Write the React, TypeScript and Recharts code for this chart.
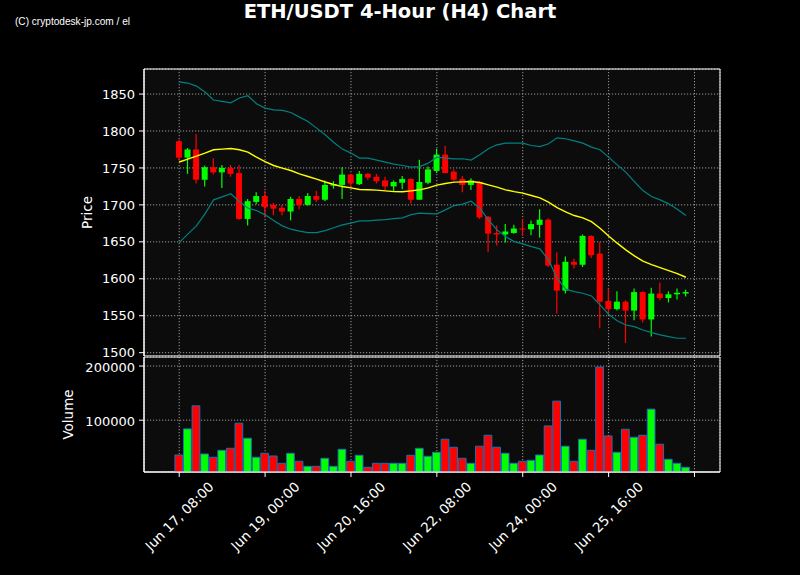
import React from 'react';
import { ComposedChart, Bar, Line, XAxis, YAxis, CartesianGrid, Cell, ReferenceArea } from 'recharts';

const opens = [1786, 1764, 1775, 1734, 1751, 1744, 1750, 1743, 1681, 1704, 1712, 1700, 1696, 1691, 1708, 1700, 1712, 1707, 1726, 1727, 1741, 1728, 1742, 1738, 1733, 1725, 1730, 1735, 1707, 1730, 1746, 1768, 1745, 1735, 1727, 1731, 1684, 1662, 1660, 1662, 1668, 1667, 1673, 1680, 1619, 1584, 1623, 1619, 1658, 1634, 1570, 1559, 1569, 1557, 1582, 1545, 1580, 1574, 1579, 1580];
const highs = [1788, 1777, 1796, 1753, 1763, 1754, 1754, 1754, 1708, 1717, 1719, 1703, 1700, 1711, 1712, 1716, 1719, 1733, 1732, 1751, 1742, 1746, 1743, 1742, 1738, 1733, 1739, 1736, 1761, 1752, 1776, 1780, 1748, 1739, 1736, 1732, 1685, 1672, 1674, 1673, 1681, 1679, 1694, 1682, 1636, 1630, 1627, 1660, 1659, 1650, 1587, 1583, 1571, 1587, 1583, 1588, 1595, 1583, 1587, 1585];
const lows = [1760, 1742, 1729, 1725, 1741, 1723, 1738, 1680, 1672, 1701, 1683, 1686, 1686, 1679, 1694, 1699, 1704, 1705, 1722, 1708, 1723, 1727, 1734, 1729, 1720, 1718, 1721, 1702, 1707, 1728, 1743, 1743, 1733, 1717, 1720, 1681, 1636, 1645, 1649, 1661, 1658, 1659, 1656, 1616, 1553, 1580, 1614, 1616, 1628, 1533, 1553, 1557, 1513, 1544, 1541, 1522, 1571, 1568, 1572, 1576];
const closes = [1764, 1775, 1734, 1751, 1744, 1750, 1742, 1681, 1705, 1712, 1697, 1695, 1691, 1708, 1700, 1712, 1707, 1727, 1728, 1741, 1729, 1742, 1737, 1732, 1725, 1731, 1735, 1707, 1731, 1748, 1768, 1743, 1734, 1727, 1733, 1683, 1661, 1660, 1664, 1668, 1667, 1674, 1680, 1618, 1584, 1623, 1619, 1658, 1632, 1569, 1559, 1569, 1557, 1582, 1545, 1580, 1574, 1579, 1581, 1582];
const volumes = [35700, 83900, 126500, 37600, 31500, 44400, 48100, 94400, 66700, 31500, 38900, 33900, 20400, 38900, 24100, 14800, 14800, 29600, 14800, 46300, 24100, 35200, 13000, 20400, 20400, 20400, 20400, 35200, 48100, 33300, 40700, 64800, 50000, 29600, 20400, 51900, 72200, 50000, 38900, 20400, 24100, 25900, 35700, 89400, 135200, 51900, 24100, 64800, 44400, 198100, 70900, 40700, 83300, 68500, 72200, 120400, 55600, 27800, 20400, 13000];
const movingAvg = [1758, 1762, 1766, 1770, 1774.6, 1775.5, 1776.3, 1774.6, 1771.4, 1764.6, 1758.7, 1753.3, 1749.8, 1746.5, 1742, 1738.4, 1734.9, 1731, 1727.6, 1724.8, 1723, 1720.8, 1720.4, 1720, 1719, 1718, 1717.7, 1719, 1720.4, 1723, 1726.7, 1728.9, 1730.8, 1731.2, 1731.6, 1730.3, 1727.1, 1724, 1720.4, 1718, 1715.9, 1712.7, 1709.5, 1703.7, 1696.4, 1690.6, 1685.6, 1682.5, 1677.4, 1668.5, 1658, 1648.2, 1639.1, 1631, 1623.8, 1619.2, 1615.1, 1611.1, 1607, 1602.1];
const upperBand = [1866.6, 1864.9, 1860.8, 1852.7, 1841.9, 1840, 1838.2, 1844.6, 1847.7, 1836.9, 1831, 1828.7, 1827.8, 1825.1, 1818.8, 1812.9, 1803.9, 1794.9, 1784.5, 1775.5, 1770.1, 1763.3, 1763.3, 1760.6, 1757.9, 1755.2, 1753.3, 1751.1, 1751.9, 1756.5, 1764.6, 1763.3, 1762.4, 1762.4, 1760.6, 1767.8, 1775.9, 1781.3, 1783.6, 1783.6, 1783.6, 1780.4, 1779, 1782.7, 1790.8, 1789.5, 1786.7, 1783.6, 1778.2, 1774.6, 1764.6, 1754.2, 1744.3, 1731.6, 1719.4, 1711.3, 1706.8, 1701.4, 1694.2, 1685.6];
const lowerBand = [1649, 1660.4, 1671.6, 1687.9, 1706.8, 1710.9, 1715, 1704.5, 1695.6, 1692.3, 1686.5, 1678.8, 1671.6, 1667.1, 1664.4, 1662.5, 1662.5, 1665.2, 1669, 1673, 1675.3, 1678.4, 1678.4, 1679.3, 1680.1, 1681.5, 1682.5, 1686.9, 1688.8, 1688.3, 1687.9, 1693.3, 1699.1, 1701, 1705, 1695.6, 1679.7, 1666.2, 1657.1, 1650.3, 1647.2, 1643.6, 1640.5, 1625.6, 1600.8, 1585.9, 1582.6, 1580.4, 1576.8, 1564.6, 1552, 1543.3, 1537.5, 1535.2, 1530.7, 1527.1, 1524, 1521.7, 1519.5, 1519.5];

const xTickValues = [0, 10, 20, 30, 40, 50, 60];
const xTickLabels = ['Jun 17, 08:00', 'Jun 19, 00:00', 'Jun 20, 16:00', 'Jun 22, 08:00', 'Jun 24, 00:00', 'Jun 25, 16:00', ''];
const priceTicks = [1500, 1550, 1600, 1650, 1700, 1750, 1800, 1850];
const volumeTicks = [100000, 200000];

const data = opens.map((o, i) => ({
  i,
  o,
  h: highs[i],
  l: lows[i],
  c: closes[i],
  v: volumes[i],
  ma: movingAvg[i],
  ub: upperBand[i],
  lb: lowerBand[i],
}));

const X_DOMAIN: [number, number] = [-4.1, 62.97];
const P_DOMAIN: [number, number] = [1495.5, 1883.9];
const V_DOMAIN: [number, number] = [4300, 216700];

const UP = '#00ff00';
const DOWN = '#ff0000';
const FONT = "'DejaVu Sans', sans-serif";
const GRID = '#9a9a9a';
const TICK_FS = 13;

const Candle = (props: any) => {
  const { x, y, width, height, payload } = props;
  if (payload == null || width == null) return null;
  const { o, h, l, c } = payload;
  const top = height >= 0 ? y : y + height;
  const hh = Math.abs(height);
  const ppu = hh / (h - l || 1);
  const up = c >= o;
  const color = up ? UP : DOWN;
  const bTop = top + (h - Math.max(o, c)) * ppu;
  const bBot = top + (h - Math.min(o, c)) * ppu;
  const cx = x + width / 2;
  return (
    <g>
      <line x1={cx} x2={cx} y1={top} y2={top + hh} stroke={color} strokeWidth={1.2} />
      <rect x={x} y={bTop} width={width} height={Math.max(bBot - bTop, 1)} fill={color} />
    </g>
  );
};

const DateTick = (props: any) => {
  const { x, y, payload } = props;
  const idx = xTickValues.indexOf(payload.value);
  const label = idx >= 0 ? xTickLabels[idx] : '';
  if (!label) return null;
  const cy = y + 37;
  return (
    <text
      x={x}
      y={cy}
      fill="#ffffff"
      fontSize={13.5}
      fontFamily={FONT}
      textAnchor="middle"
      dominantBaseline="central"
      transform={`rotate(-45 ${x} ${cy})`}
    >
      {label}
    </text>
  );
};

const VolTick = (props: any) => {
  const { x, y, payload } = props;
  return (
    <text x={x} y={y + 1.5} fill="#ffffff" fontSize={TICK_FS} fontFamily={FONT} textAnchor="end" dominantBaseline="central">
      {payload.value}
    </text>
  );
};

export default function App() {
  return (
    <div style={{ position: 'absolute', left: 0, top: 0, width: 800, height: 575, background: '#000000', overflow: 'hidden' }}>
      <div style={{ position: 'absolute', left: 0, top: 0 }}>
        <ComposedChart width={800} height={370} data={data} margin={{ top: 69, right: 80, left: 84, bottom: 14 }}>
          <CartesianGrid stroke={GRID} strokeDasharray="1.2 1.8" fill="#0c0c0c" fillOpacity={1} />
          <XAxis dataKey="i" type="number" domain={X_DOMAIN} ticks={xTickValues} allowDataOverflow hide />
          <YAxis
            type="number"
            domain={P_DOMAIN}
            ticks={priceTicks}
            interval={0}
            allowDataOverflow
            width={60}
            tickSize={5}
            tickMargin={4}
            stroke="#ffffff"
            tick={{ fill: '#ffffff', fontSize: TICK_FS, fontFamily: FONT }}
            tickLine={{ stroke: '#ffffff' }}
            axisLine={{ stroke: '#ffffff' }}
          />
          <Line dataKey="ub" stroke="#008080" strokeWidth={1.2} dot={false} isAnimationActive={false} />
          <Line dataKey="lb" stroke="#008080" strokeWidth={1.2} dot={false} isAnimationActive={false} />
          <Line dataKey="ma" stroke="#ffff00" strokeWidth={1.4} dot={false} isAnimationActive={false} />
          <Bar dataKey={(d: any) => [d.l, d.h]} barSize={6} shape={<Candle />} isAnimationActive={false} />
          <ReferenceArea x1={X_DOMAIN[0]} x2={X_DOMAIN[1]} y1={P_DOMAIN[0]} y2={P_DOMAIN[1]} stroke="#ffffff" strokeWidth={1} fill="none" fillOpacity={0} ifOverflow="visible" />
        </ComposedChart>
      </div>
      <div style={{ position: 'absolute', left: 0, top: 357 }}>
        <ComposedChart width={800} height={218} data={data} margin={{ top: 0, right: 80, left: 84, bottom: 13 }}>
          <CartesianGrid stroke={GRID} strokeDasharray="1.2 1.8" fill="#0c0c0c" fillOpacity={1} />
          <XAxis
            dataKey="i"
            type="number"
            domain={X_DOMAIN}
            ticks={xTickValues}
            allowDataOverflow
            height={90}
            tickSize={5}
            tickMargin={2}
            interval={0}
            tick={<DateTick />}
            tickLine={{ stroke: '#ffffff' }}
            axisLine={{ stroke: '#ffffff' }}
          />
          <YAxis
            type="number"
            domain={V_DOMAIN}
            ticks={volumeTicks}
            interval={0}
            allowDataOverflow
            width={60}
            tickSize={5}
            tickMargin={4}
            tick={<VolTick />}
            tickLine={{ stroke: '#ffffff' }}
            axisLine={{ stroke: '#ffffff' }}
          />
          <Bar dataKey="v" barSize={8.6} stroke="#1f6fb4" strokeWidth={1} isAnimationActive={false}>
            {data.map((d, k) => (
              <Cell key={k} fill={d.c >= d.o ? UP : DOWN} />
            ))}
          </Bar>
          <ReferenceArea x1={X_DOMAIN[0]} x2={X_DOMAIN[1]} y1={V_DOMAIN[0]} y2={V_DOMAIN[1]} stroke="#ffffff" strokeWidth={1} fill="none" fillOpacity={0} ifOverflow="visible" />
        </ComposedChart>
      </div>
      <svg width={800} height={575} style={{ position: 'absolute', left: 0, top: 0, pointerEvents: 'none' }}>
        <text x={400} y={17.5} fill="#ffffff" fontSize={19.5} fontWeight="bold" fontFamily={FONT} textAnchor="middle">
          ETH/USDT 4-Hour (H4) Chart
        </text>
        <text x={15} y={25} fill="#ffffff" fontSize={11} fontFamily="'Liberation Sans Narrow', 'Liberation Sans', sans-serif" textLength={115} lengthAdjust="spacingAndGlyphs">
          (C) cryptodesk-jp.com / el
        </text>
        <text x={87} y={212.5} fill="#ffffff" fontSize={13.5} fontFamily={FONT} textAnchor="middle" dominantBaseline="central" transform="rotate(-90 87 212.5)">
          Price
        </text>
        <text x={68} y={414.5} fill="#ffffff" fontSize={13.5} fontFamily={FONT} textAnchor="middle" dominantBaseline="central" transform="rotate(-90 68 414.5)">
          Volume
        </text>
      </svg>
    </div>
  );
}
